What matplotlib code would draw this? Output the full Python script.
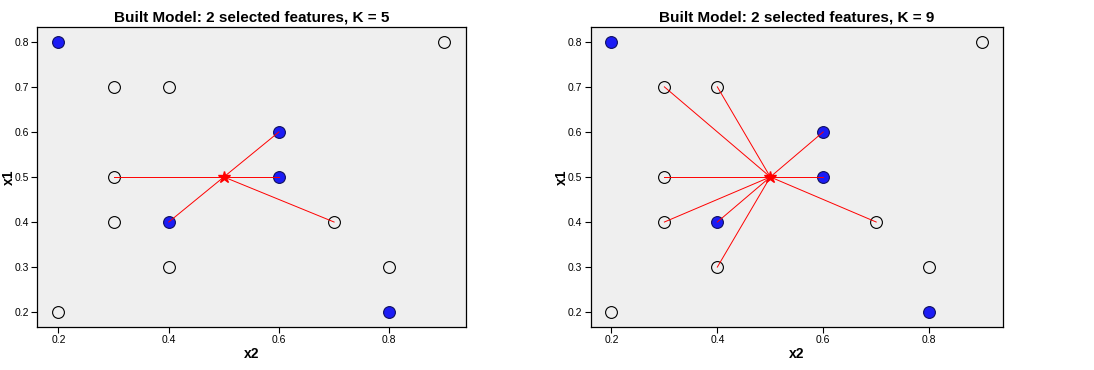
import matplotlib
matplotlib.use("agg")
import matplotlib.pyplot as plt

plt.rcParams['font.family'] = ['Liberation Sans', 'DejaVu Sans']

# data points (x2, x1)
blue_x2 = [0.2, 0.6, 0.6, 0.4, 0.8]
blue_x1 = [0.8, 0.6, 0.5, 0.4, 0.2]
open_x2 = [0.9, 0.3, 0.4, 0.3, 0.3, 0.7, 0.4, 0.8, 0.2]
open_x1 = [0.8, 0.7, 0.7, 0.5, 0.4, 0.4, 0.3, 0.3, 0.2]
query = (0.5, 0.5)
ks = [5, 9]
# neighbours in distance order (x2, x1)
nb_x2 = [0.6, 0.6, 0.4, 0.3, 0.7, 0.3, 0.4, 0.3, 0.4]
nb_x1 = [0.5, 0.6, 0.4, 0.5, 0.4, 0.7, 0.7, 0.4, 0.3]

fig = plt.figure(figsize=(10.94, 3.70), dpi=100)
axes = [fig.add_axes([0.0338, 0.1162, 0.392, 0.811]),
        fig.add_axes([0.540, 0.1162, 0.3766, 0.811])]

for ax, k in zip(axes, ks):
    ax.set_facecolor('#efefef')
    for i in range(k):
        ax.plot([query[0], nb_x2[i]], [query[1], nb_x1[i]], color='red', lw=0.7,
                zorder=3 if i < 5 else 2)
    ax.plot(open_x2, open_x1, 'o', ms=8.5, mfc='none', mec='black', mew=0.8, zorder=1)
    ax.plot(blue_x2, blue_x1, 'o', ms=8.5, mfc='#1c1cf5', mec='#101060', mew=0.8, zorder=1)
    ax.plot(query[0], query[1], '*', ms=9, color='red', zorder=4)
    ax.set_xlim(0.161, 0.939)
    ax.set_ylim(0.167, 0.833)
    ax.set_xticks([0.2, 0.4, 0.6, 0.8])
    ax.set_yticks([0.2, 0.3, 0.4, 0.5, 0.6, 0.7, 0.8])
    ax.tick_params(labelsize=7.5, length=4, width=0.8, pad=2)
    ax.set_xlabel('x2', fontsize=10, fontweight='bold', labelpad=1)
    ax.set_ylabel('x1', fontsize=10, fontweight='bold', labelpad=-1)
    ax.set_title('Built Model: 2 selected features, K = %d' % k, fontsize=11,
                 fontweight='bold', pad=4)
    for s in ax.spines.values():
        s.set_linewidth(0.9)

fig.savefig('out.png', dpi=100)
